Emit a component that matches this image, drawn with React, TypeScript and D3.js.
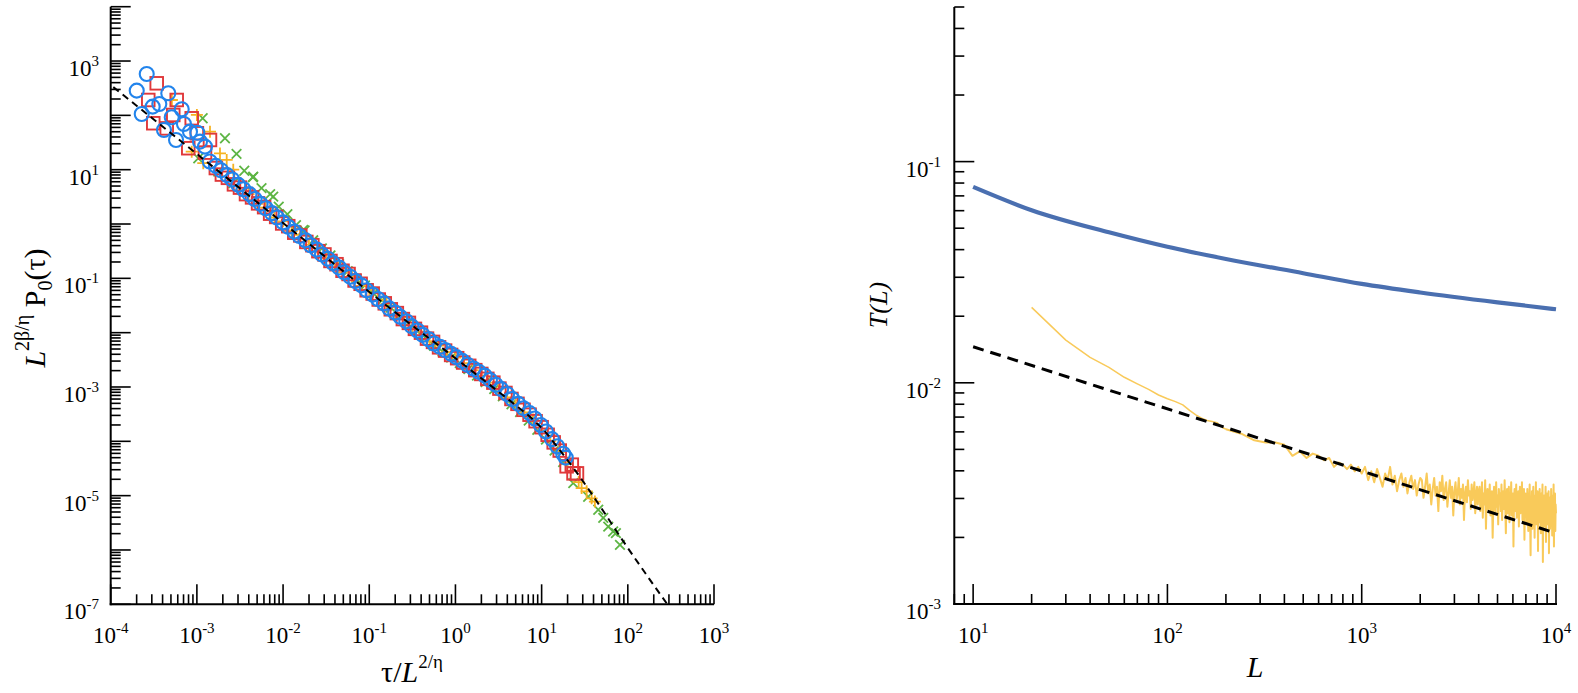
import React from 'react';
import * as d3 from 'd3';

// ---------- LEFT PANEL DATA (log10 tau, log10 P) ----------
const circlesLog10: [number, number][] = [
  [-3.698, 2.455], [-3.64, 2.026], [-3.582, 2.762], [-3.513, 2.16], [-3.436, 2.21], [-3.382, 1.731],
  [-3.332, 2.406], [-3.292, 1.965], [-3.242, 1.547], [-3.176, 2.112], [-3.15, 1.842], [-3.08, 1.7],
  [-2.995, 1.68], [-2.964, 1.516], [-2.906, 1.424],
  [-2.85, 1.15], [-2.78, 1.07], [-2.72, 0.99], [-2.65, 0.9], [-2.59, 0.82], [-2.52, 0.72], [-2.46, 0.64],
  [-2.39, 0.55], [-2.33, 0.46], [-2.26, 0.37], [-2.2, 0.29], [-2.13, 0.2], [-2.07, 0.12], [-2.0, 0.03],
  [-1.94, -0.05], [-1.87, -0.14], [-1.81, -0.22], [-1.74, -0.3], [-1.68, -0.39], [-1.61, -0.47],
  [-1.55, -0.56], [-1.48, -0.64], [-1.42, -0.72], [-1.35, -0.8], [-1.29, -0.89], [-1.22, -0.97],
  [-1.16, -1.05], [-1.09, -1.13], [-1.03, -1.22], [-0.96, -1.3], [-0.9, -1.38], [-0.83, -1.46],
  [-0.77, -1.55], [-0.7, -1.63], [-0.64, -1.71], [-0.57, -1.79], [-0.51, -1.88], [-0.44, -1.96],
  [-0.38, -2.04], [-0.31, -2.12], [-0.25, -2.2], [-0.18, -2.26], [-0.12, -2.32], [-0.05, -2.39],
  [0.01, -2.45], [0.08, -2.52], [0.14, -2.59], [0.21, -2.66], [0.27, -2.72], [0.34, -2.79], [0.4, -2.87],
  [0.47, -2.96], [0.53, -3.04], [0.6, -3.13], [0.66, -3.22], [0.73, -3.31], [0.79, -3.39], [0.86, -3.48],
  [0.92, -3.58], [0.99, -3.7], [1.05, -3.82], [1.12, -3.96], [1.18, -4.09], [1.25, -4.23], [1.28, -4.3],
];

const squaresLog10: [number, number][] = [
  [-3.564, 2.283], [-3.506, 1.855], [-3.466, 2.59], [-3.35, 1.76], [-3.274, 2.007], [-3.234, 2.283],
  [-3.1, 1.395], [-3.06, 1.946], [-3.0, 1.67], [-2.906, 1.314], [-2.848, 1.547],
  [-2.78, 1.03], [-2.71, 0.91], [-2.64, 0.85], [-2.57, 0.73], [-2.5, 0.67], [-2.43, 0.55], [-2.36, 0.49],
  [-2.29, 0.38], [-2.22, 0.31], [-2.15, 0.19], [-2.08, 0.13], [-2.01, 0.01], [-1.94, -0.04], [-1.87, -0.16],
  [-1.8, -0.21], [-1.73, -0.33], [-1.66, -0.39], [-1.59, -0.5], [-1.52, -0.56], [-1.45, -0.68],
  [-1.38, -0.74], [-1.31, -0.86], [-1.24, -0.92], [-1.17, -1.04], [-1.1, -1.1], [-1.03, -1.22],
  [-0.96, -1.28], [-0.89, -1.39], [-0.82, -1.46], [-0.75, -1.57], [-0.68, -1.64], [-0.61, -1.75],
  [-0.54, -1.82], [-0.47, -1.93], [-0.4, -2.0], [-0.33, -2.11], [-0.26, -2.17], [-0.19, -2.27],
  [-0.12, -2.33], [-0.05, -2.41], [0.02, -2.47], [0.09, -2.55], [0.16, -2.61], [0.23, -2.69], [0.3, -2.76],
  [0.37, -2.85], [0.44, -2.92], [0.51, -3.03], [0.58, -3.11], [0.65, -3.22], [0.72, -3.31], [0.79, -3.42],
  [0.86, -3.51], [0.93, -3.63], [1.0, -3.74], [1.07, -3.88], [1.14, -4.02], [1.21, -4.17], [1.29, -4.46],
  [1.35, -4.43], [1.37, -4.59], [1.41, -4.59],
];

const plusesLog10: [number, number][] = [
  [-3.29, 2.283], [-3.0, 2.007], [-2.848, 1.7], [-3.06, 1.332], [-2.926, 1.119], [-2.732, 1.3],
  [-2.654, 1.18], [-2.578, 1.0],
  [-2.5, 0.62], [-2.4, 0.55], [-2.3, 0.37], [-2.2, 0.3], [-2.1, 0.12], [-2.0, 0.05], [-1.9, -0.13],
  [-1.8, -0.2], [-1.7, -0.38], [-1.6, -0.45], [-1.5, -0.63], [-1.4, -0.7], [-1.3, -0.89], [-1.2, -0.96],
  [-1.1, -1.14], [-1.0, -1.21], [-0.9, -1.4], [-0.8, -1.47], [-0.7, -1.66], [-0.6, -1.72], [-0.5, -1.91],
  [-0.4, -1.98], [-0.3, -2.16], [-0.2, -2.24], [-0.1, -2.36], [0.0, -2.46], [0.1, -2.56], [0.2, -2.69],
  [0.3, -2.79], [0.4, -2.92], [0.5, -3.03], [0.6, -3.19], [0.7, -3.3], [0.8, -3.47], [0.9, -3.6],
  [1.0, -3.8], [1.1, -3.99], [1.2, -4.2], [1.3, -4.41], [1.43, -4.75], [1.464, -4.86], [1.522, -4.92],
  [1.58, -5.05], [1.618, -5.11],
];

const crossesLog10: [number, number][] = [
  [-2.984, 1.21], [-2.933, 1.947], [-2.752, 0.964], [-2.674, 1.579], [-2.578, 0.75], [-2.54, 1.29],
  [-2.346, 0.872], [-2.114, 0.504], [-1.766, -0.11],
  [-2.45, 0.98], [-2.35, 0.86], [-2.25, 0.66], [-2.15, 0.55], [-2.05, 0.32], [-1.95, 0.18], [-1.85, -0.02],
  [-1.75, -0.12], [-1.65, -0.3], [-1.55, -0.45], [-1.45, -0.58], [-1.35, -0.74], [-1.25, -0.87],
  [-1.15, -1.01], [-1.05, -1.13], [-0.95, -1.28], [-0.85, -1.4], [-0.75, -1.54], [-0.65, -1.68],
  [-0.55, -1.83], [-0.45, -1.96], [-0.35, -2.09], [-0.25, -2.24], [-0.15, -2.35], [-0.05, -2.46],
  [0.05, -2.56], [0.15, -2.67], [0.25, -2.79], [0.35, -2.91], [0.45, -3.04], [0.55, -3.17], [0.65, -3.32],
  [0.75, -3.46], [0.85, -3.62], [0.95, -3.79], [1.05, -3.97], [1.15, -4.17], [1.25, -4.38],
  [1.367, -4.77], [1.54, -5.02], [1.657, -5.26], [1.715, -5.41], [1.773, -5.57], [1.83, -5.66],
  [1.862, -5.69], [1.909, -5.905],
];

const fitLeftLog10: [number, number][] = [
  [-3.97, 2.52], [-3.0, 1.29], [-2.0, 0.02], [-1.0, -1.25], [-0.5, -1.87], [0.0, -2.47], [0.3, -2.84],
  [0.67, -3.3], [0.9, -3.6], [1.05, -3.84], [1.17, -4.08], [1.41, -4.58], [1.68, -5.2], [1.93, -5.8],
  [2.2, -6.42], [2.45, -6.98],
];

// ---------- RIGHT PANEL DATA ----------
const blueL = [10, 20, 50, 100, 200, 500, 1000, 2000, 5000, 10000];
const blueT = [0.0769, 0.0603, 0.0479, 0.0412, 0.0363, 0.0313, 0.028, 0.0256, 0.0231, 0.0215];

const fitRightL = [10, 10000];
const fitRightT = [0.01456, 0.00209];

const orangeHeadL = [20, 30, 40, 50, 60, 70, 80, 90, 100, 110, 120, 130, 140, 150, 160, 170, 180, 190, 200];
const orangeHeadLogT = [-1.659, -1.807, -1.885, -1.93, -1.975, -2.005, -2.03, -2.055, -2.072, -2.085,
  -2.1, -2.125, -2.145, -2.16, -2.17, -2.175, -2.18, -2.2, -2.21];
const orangeTailL = d3.range(200, 10001, 40);
const orangeTailLogT = [
  -2.21, -2.23, -2.26, -2.27, -2.27, -2.28, -2.33, -2.31, -2.34, -2.32, -2.33, -2.35, -2.34, -2.38, -2.36,
  -2.37, -2.39, -2.37, -2.40, -2.38, -2.41,
  -2.38, -2.44, -2.40, -2.45, -2.39, -2.43, -2.47, -2.41, -2.44, -2.38, -2.46, -2.42, -2.49, -2.44, -2.41,
  -2.47, -2.43, -2.50, -2.45, -2.42, -2.48, -2.44, -2.51, -2.46, -2.43,
  -2.44, -2.52, -2.47, -2.41, -2.50, -2.46, -2.55, -2.48, -2.43, -2.51, -2.47, -2.58, -2.45, -2.49, -2.42,
  -2.53, -2.48, -2.45, -2.56, -2.50, -2.44, -2.52, -2.47, -2.60, -2.49, -2.45, -2.53, -2.50, -2.43, -2.55,
  -2.48, -2.52, -2.46, -2.62, -2.50, -2.47, -2.54, -2.44, -2.51, -2.49, -2.57, -2.46, -2.53, -2.50, -2.45,
  -2.59, -2.51, -2.47, -2.55, -2.49,
  -2.47, -2.58, -2.52, -2.45, -2.61, -2.50, -2.55, -2.44, -2.66, -2.51, -2.48, -2.57, -2.53, -2.46, -2.60,
  -2.52, -2.49, -2.70, -2.55, -2.47, -2.53, -2.59, -2.45, -2.56, -2.51, -2.64, -2.48, -2.54, -2.50, -2.58,
  -2.46, -2.62, -2.53, -2.49, -2.57, -2.44, -2.55, -2.68, -2.51, -2.48, -2.59, -2.53, -2.47, -2.63, -2.52,
  -2.56, -2.45, -2.60, -2.54, -2.50, -2.74, -2.53, -2.48, -2.58, -2.55, -2.46, -2.61, -2.52, -2.57, -2.49,
  -2.65, -2.54, -2.47, -2.59, -2.53, -2.56, -2.45, -2.62, -2.51, -2.58, -2.48, -2.71, -2.55, -2.50, -2.60,
  -2.52, -2.63, -2.48, -2.58, -2.67, -2.50, -2.55, -2.46, -2.62, -2.78, -2.53, -2.59, -2.49, -2.66, -2.56,
  -2.47, -2.61, -2.54, -2.70, -2.51, -2.58, -2.45, -2.64, -2.55, -2.60, -2.49, -2.76, -2.57, -2.52, -2.63,
  -2.48, -2.59, -2.54, -2.68, -2.50, -2.62, -2.57, -2.46, -2.81, -2.55, -2.60, -2.51, -2.65, -2.53, -2.58,
  -2.47, -2.72, -2.56, -2.61, -2.50, -2.64, -2.54, -2.59, -2.49, -2.77, -2.57, -2.52, -2.66, -2.55, -2.62,
  -2.48, -2.60, -2.53, -2.69, -2.51, -2.63, -2.58, -2.46, -2.74, -2.56, -2.61, -2.50, -2.67, -2.55, -2.59,
];

const leftXTickExps = [-4, -3, -2, -1, 0, 1, 2, 3];
const leftYLabelExps = [3, 1, -1, -3, -5, -7];
const rightXTickExps = [1, 2, 3, 4];
const rightYLabelExps = [-1, -2, -3];

const FONT = "'Liberation Serif', 'Times New Roman', Times, serif";
const C_BLUE = '#2284ec';
const C_RED = '#e0383a';
const C_ORANGE = '#f6b321';
const C_GREEN = '#5db544';

type Tick = { v: number; major: boolean };
function logTicks(d0: number, d1: number): Tick[] {
  const out: Tick[] = [];
  const e0 = Math.floor(Math.log10(d0));
  const e1 = Math.ceil(Math.log10(d1));
  for (let e = e0; e <= e1; e++) {
    for (let k = 1; k <= 9; k++) {
      const v = k * Math.pow(10, e);
      if (v >= d0 * (1 - 1e-9) && v <= d1 * (1 + 1e-9)) out.push({ v, major: k === 1 });
    }
  }
  return out;
}

function Pow({ x, y, exp, anchor }: { x: number; y: number; exp: number; anchor: string }) {
  return (
    <text x={x} y={y} textAnchor={anchor} fontFamily={FONT} fontSize={23} fill="#000">
      <tspan>10</tspan>
      <tspan dy={-10} fontSize={15}>{String(exp)}</tspan>
    </text>
  );
}

export default function App() {
  const lx = d3.scaleLog().domain([1e-4, 1e3]).range([110.7, 714]);
  const ly = d3.scaleLog().domain([1e-7, 1e4]).range([604.3, 6.7]);
  const rx = d3.scaleLog().domain([8, 1e4]).range([954.3, 1556]);
  const ry = d3.scaleLog().domain([1e-3, 0.5]).range([604, 7]);

  const lxTicks = logTicks(1e-4, 1e3);
  const lyTicks = logTicks(1e-7, 1e4);
  const rxTicks = logTicks(8, 1e4);
  const ryTicks = logTicks(1e-3, 0.5);

  const fitLeft = d3.line<[number, number]>()
    .x(d => lx(Math.pow(10, d[0])))
    .y(d => ly(Math.pow(10, d[1])))
    .curve(d3.curveMonotoneX)(fitLeftLog10) || '';

  const blueLine = d3.line<number>()
    .x((_, i) => rx(blueL[i]))
    .y(d => ry(d))
    .curve(d3.curveMonotoneX)(blueT) || '';

  const fitRight = d3.line<number>()
    .x((_, i) => rx(fitRightL[i]))
    .y(d => ry(d))(fitRightT) || '';

  const orangeHead = d3.line<number>()
    .x((_, i) => rx(orangeHeadL[i]))
    .y(d => ry(Math.pow(10, d)))(orangeHeadLogT) || '';

  const n = Math.min(orangeTailL.length, orangeTailLogT.length);
  const tailPts: [number, number][] = [];
  for (let i = 0; i < n; i++) tailPts.push([orangeTailL[i], Math.pow(10, orangeTailLogT[i])]);
  const orangeTail = d3.line<[number, number]>()
    .x(d => rx(d[0]))
    .y(d => ry(d[1]))(tailPts) || '';

  const pt = (d: [number, number]) => [lx(Math.pow(10, d[0])), ly(Math.pow(10, d[1]))];

  const lAxX = 110.7, lAxY = 604.3, rAxX = 954.3, rAxY = 604;

  return (
    <svg width={1578} height={693} style={{ position: 'absolute', left: 0, top: 0, background: '#fff' }}>
      <rect x={0} y={0} width={1578} height={693} fill="#fff" />

      {/* ---------------- LEFT PANEL ---------------- */}
      <g>
        {crossesLog10.map((d, i) => {
          const [x, y] = pt(d);
          const s = 4.8;
          return (
            <path key={'c' + i} d={`M${x - s},${y - s}L${x + s},${y + s}M${x - s},${y + s}L${x + s},${y - s}`}
              stroke={C_GREEN} strokeWidth={1.8} fill="none" />
          );
        })}
        {plusesLog10.map((d, i) => {
          const [x, y] = pt(d);
          const s = 6;
          return (
            <path key={'p' + i} d={`M${x - s},${y}L${x + s},${y}M${x},${y - s}L${x},${y + s}`}
              stroke={C_ORANGE} strokeWidth={1.8} fill="none" />
          );
        })}
        {squaresLog10.map((d, i) => {
          const [x, y] = pt(d);
          const s = 6.3;
          return <rect key={'s' + i} x={x - s} y={y - s} width={2 * s} height={2 * s} fill="none" stroke={C_RED} strokeWidth={1.9} />;
        })}
        {circlesLog10.map((d, i) => {
          const [x, y] = pt(d);
          return <circle key={'o' + i} cx={x} cy={y} r={7} fill="none" stroke={C_BLUE} strokeWidth={2.1} />;
        })}
        <path d={fitLeft} fill="none" stroke="#000" strokeWidth={2} strokeDasharray="7,5" />

        {/* axes */}
        <line x1={lAxX} y1={6.7} x2={lAxX} y2={lAxY + 1} stroke="#000" strokeWidth={2} />
        <line x1={lAxX - 1} y1={lAxY} x2={714} y2={lAxY} stroke="#000" strokeWidth={2} />
        {lxTicks.map((t, i) => {
          const x = lx(t.v);
          const len = t.major ? 20 : 10;
          return <line key={'lxt' + i} x1={x} x2={x} y1={lAxY} y2={lAxY - len} stroke="#000" strokeWidth={1.6} />;
        })}
        {lyTicks.map((t, i) => {
          const y = ly(t.v);
          const len = t.major ? 20 : 10;
          return <line key={'lyt' + i} x1={lAxX} x2={lAxX + len} y1={y} y2={y} stroke="#000" strokeWidth={1.6} />;
        })}
        {leftXTickExps.map(e => (
          <Pow key={'lxl' + e} x={lx(Math.pow(10, e))} y={643} exp={e} anchor="middle" />
        ))}
        {leftYLabelExps.map(e => (
          <Pow key={'lyl' + e} x={99} y={ly(Math.pow(10, e)) + 15} exp={e} anchor="end" />
        ))}
        <text x={412} y={682} textAnchor="middle" fontFamily={FONT} fontSize={30}>
          <tspan>τ/</tspan><tspan fontStyle="italic">L</tspan><tspan dy={-14} fontSize={19}>2/η</tspan>
        </text>
        <text transform="translate(45,308) rotate(-90)" textAnchor="middle" fontFamily={FONT} fontSize={30}>
          <tspan fontStyle="italic">L</tspan>
          <tspan dy={-16} fontSize={20}>2β/η</tspan>
          <tspan dy={16}> P</tspan>
          <tspan dy={7} fontSize={20}>0</tspan>
          <tspan dy={-7}>(τ)</tspan>
        </text>
      </g>

      {/* ---------------- RIGHT PANEL ---------------- */}
      <g>
        <path d={orangeHead} fill="none" stroke="#f9ca5a" strokeWidth={1.5} strokeLinejoin="round" />
        <path d={orangeTail} fill="none" stroke="#f9ca5a" strokeWidth={2} strokeLinejoin="round" />
        <path d={fitRight} fill="none" stroke="#000" strokeWidth={3} strokeDasharray="11,7" />
        <path d={blueLine} fill="none" stroke="#4a6fb0" strokeWidth={4.2} />

        <line x1={rAxX} y1={7} x2={rAxX} y2={rAxY + 1} stroke="#000" strokeWidth={2} />
        <line x1={rAxX - 1} y1={rAxY} x2={1557} y2={rAxY} stroke="#000" strokeWidth={2} />
        {rxTicks.map((t, i) => {
          const x = rx(t.v);
          const len = t.major ? 20 : 10;
          return <line key={'rxt' + i} x1={x} x2={x} y1={rAxY} y2={rAxY - len} stroke="#000" strokeWidth={1.6} />;
        })}
        {ryTicks.map((t, i) => {
          const y = ry(t.v);
          const len = t.major ? 20 : 10;
          return <line key={'ryt' + i} x1={rAxX} x2={rAxX + len} y1={y} y2={y} stroke="#000" strokeWidth={1.6} />;
        })}
        {rightXTickExps.map(e => (
          <Pow key={'rxl' + e} x={rx(Math.pow(10, e))} y={643} exp={e} anchor="middle" />
        ))}
        {rightYLabelExps.map(e => (
          <Pow key={'ryl' + e} x={941} y={ry(Math.pow(10, e)) + 15} exp={e} anchor="end" />
        ))}
        <text x={1255} y={677} textAnchor="middle" fontFamily={FONT} fontSize={30} fontStyle="italic">L</text>
        <text transform="translate(887,305) rotate(-90)" textAnchor="middle" fontFamily={FONT} fontSize={26} fontStyle="italic">T(L)</text>
      </g>
    </svg>
  );
}
